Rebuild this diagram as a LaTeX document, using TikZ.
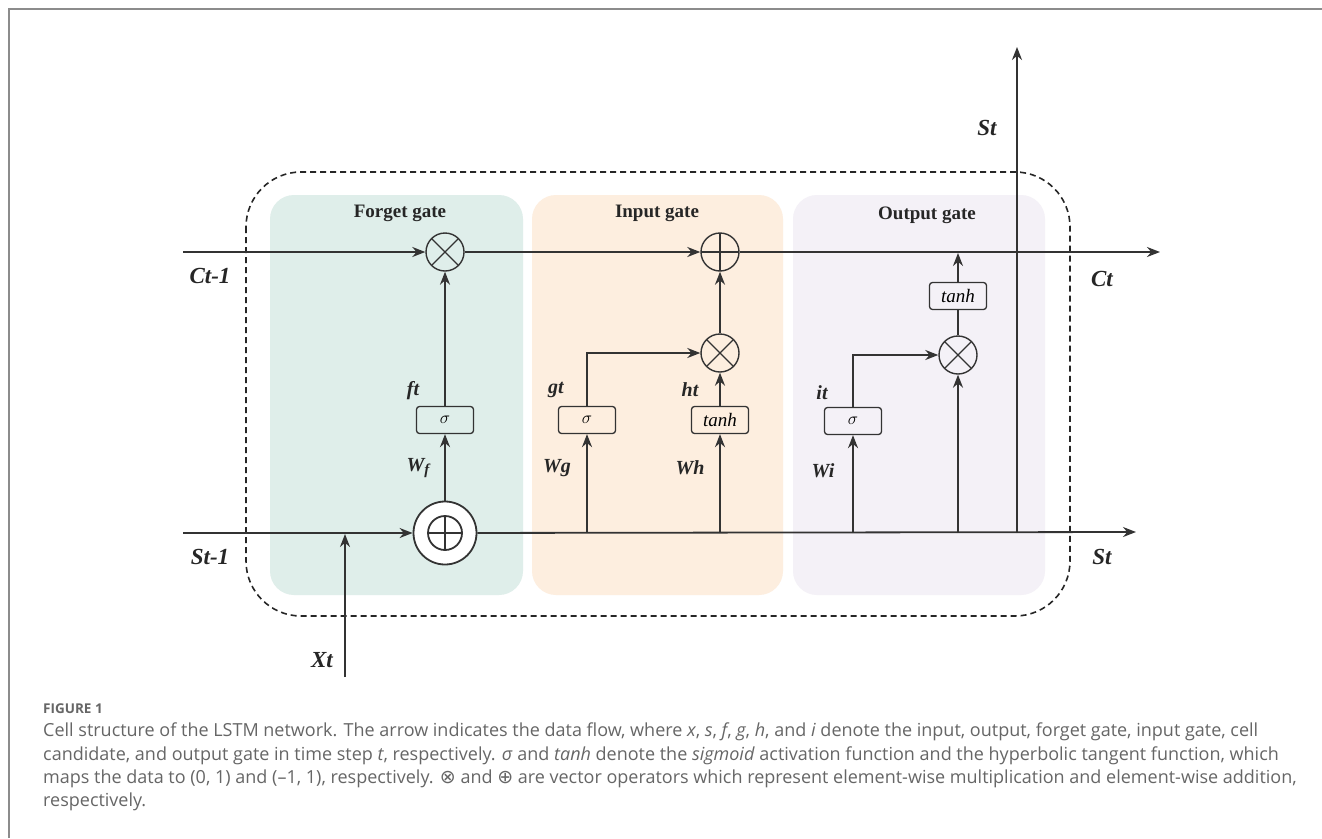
\documentclass[tikz,border=0pt]{standalone}
\usepackage{fontspec}
\setmainfont{Liberation Serif}
\newfontfamily\capfont{Open Sans}
\newfontfamily\symfont{DejaVu Sans}
\usetikzlibrary{positioning,arrows.meta,calc}

\definecolor{forgetbg}{RGB}{223,238,234}
\definecolor{inputbg}{RGB}{253,238,223}
\definecolor{outputbg}{RGB}{244,241,247}
\definecolor{linegray}{RGB}{51,51,51}
\definecolor{framegray}{RGB}{140,140,140}
\definecolor{capgray}{RGB}{102,102,102}

\begin{document}
\begin{tikzpicture}[x=1pt, y=-1pt,
    flow/.style={line width=1.8pt, draw=linegray, -{Stealth[length=13pt, width=10pt]}},
    wire/.style={line width=1.8pt, draw=linegray},
    gatebg/.style={rounded corners=24pt},
    cellborder/.style={draw=black!85, line width=1.6pt, dash pattern=on 6pt off 4pt, rounded corners=55pt},
    actbox/.style={draw=linegray, line width=1.3pt, rounded corners=3pt, minimum width=57pt, minimum height=27pt, inner sep=0pt, font=\fontsize{19}{19}\selectfont\itshape},
    opnode/.style={circle, draw=linegray, line width=1.4pt, minimum size=38pt, inner sep=0pt},
    mulop/.style={opnode, path picture={\draw[linegray, line width=1.3pt]
        (path picture bounding box.north west) -- (path picture bounding box.south east)
        (path picture bounding box.north east) -- (path picture bounding box.south west);}},
    addop/.style={opnode, path picture={\draw[linegray, line width=1.3pt]
        (path picture bounding box.north) -- (path picture bounding box.south)
        (path picture bounding box.west) -- (path picture bounding box.east);}},
    sig/.style={font=\fontsize{23}{23}\selectfont\bfseries\itshape, text=black!85},
    lab/.style={font=\fontsize{20}{20}\selectfont\bfseries\itshape, text=black!85},
    gatetitle/.style={font=\fontsize{19}{19}\selectfont\bfseries, text=black!85},
    captext/.style={anchor=west, inner sep=0pt, text=capgray, font=\capfont\fontsize{18}{18}\selectfont}
]
    \useasboundingbox (0,0) rectangle (1322,838);
    \fill[white] (0,0) rectangle (1322,838);

    % Page frame
    \draw[framegray, line width=1.5pt] (9,838) -- (9,9) -- (1322,9);

    % Gate panels
    \fill[forgetbg, gatebg] (270,195) rectangle (523,595);
    \fill[inputbg, gatebg] (532,195) rectangle (783,595);
    \fill[outputbg, gatebg] (793,195) rectangle (1045,595);
    \node[gatetitle] (tforget) at (400,213) {Forget gate};
    \node[gatetitle] (tinput) at (657,213) {Input gate};
    \node[gatetitle] (toutput) at (927,215) {Output gate};

    % Cell border
    \draw[cellborder] (246,172) rectangle (1070,616);

    % --- Forget gate ---
    \node[mulop] (mulF) at (445,252) {};
    \node[actbox] (sigF) at (445,420) {$\sigma$};
    \node[circle, draw=linegray, line width=1.8pt, fill=white, minimum size=63pt, inner sep=0pt] (bigF) at (445,533) {};
    \node[addop, line width=1.8pt, minimum size=34pt] (addF) at (445,533) {};
    \node[lab] (ft) at (413,391) {ft};
    \node[lab] (wf) at (418,468) {W\raisebox{-0.35ex}{\fontsize{15}{15}\selectfont f}};

    % --- Input gate ---
    \node[addop] (addI) at (720,252) {};
    \node[mulop] (mulI) at (720,353) {};
    \node[actbox] (sigI) at (587,420) {$\sigma$};
    \node[actbox] (tanhI) at (720,420) {tanh};
    \node[lab] (gt) at (556,390) {gt};
    \node[lab] (ht) at (690,390) {ht};
    \node[lab] (wg) at (557,468) {Wg};
    \node[lab] (wh) at (690,468) {Wh};

    % --- Output gate ---
    \node[actbox] (tanhO) at (958,296) {tanh};
    \node[mulop] (mulO) at (958,355) {};
    \node[actbox] (sigO) at (853,421) {$\sigma$};
    \node[lab] (it) at (822,393) {it};
    \node[lab] (wi) at (823,471) {Wi};

    % Wire end points
    \coordinate (cin) at (183,252);
    \coordinate (cout) at (1160,252);
    \coordinate (sin) at (183,533);
    \coordinate (sout) at (1136,532);
    \coordinate (xin) at (345,677);
    \coordinate (xjoin) at (345,534);
    \coordinate (gjoin) at (587,533);
    \coordinate (hjoin) at (720,533);
    \coordinate (ijoin) at (853,533);
    \coordinate (ojoin) at (958,533);
    \coordinate (cjoin) at (958,253);
    \coordinate (sjoin) at (1017,533);
    \coordinate (stUp) at (1017,47);

    % Cell state and hidden state lines
    \draw[flow] (cin) -- (mulF);
    \draw[flow] (mulF) -- (addI);
    \draw[flow] (addI) -- (cout);
    \draw[flow] (sin) -- (bigF);
    \draw[flow] (bigF) -- (sout);
    \draw[flow] (xin) -- (xjoin);
    \draw[flow] (sjoin) -- (stUp);

    % Forget gate flow
    \draw[flow] (bigF) -- (sigF);
    \draw[flow] (sigF) -- (mulF);

    % Input gate flow
    \draw[flow] (gjoin) -- (sigI);
    \draw[flow] (sigI.north) |- (mulI);
    \draw[flow] (hjoin) -- (tanhI);
    \draw[flow] (tanhI) -- (mulI);
    \draw[flow] (mulI) -- (addI);

    % Output gate flow
    \draw[flow] (ijoin) -- (sigO);
    \draw[flow] (sigO.north) |- (mulO);
    \draw[flow] (ojoin) -- (mulO);
    \draw[wire] (mulO) -- (tanhO);
    \draw[flow] (tanhO) -- (cjoin);

    % State labels
    \node[sig] (lcin) at (210,276) {Ct-1};
    \node[sig] (lsin) at (210,557) {St-1};
    \node[sig] (lxin) at (322,660) {Xt};
    \node[sig] (lcout) at (1102,279) {Ct};
    \node[sig] (lsout) at (1102,557) {St};
    \node[sig] (lsup) at (987,128) {St};

    % Caption
    \node[captext, font=\capfont\bfseries\fontsize{13.5}{13.5}\selectfont] (fig) at (43,709) {FIGURE 1};
    \node[captext] (cap1) at (43,732) {Cell structure of the LSTM network. The arrow indicates the data flow, where \textit{x}, \textit{s}, \textit{f}, \textit{g}, \textit{h}, and \textit{i} denote the input, output, forget gate, input gate, cell};
    \node[captext] (cap2) at (43,756) {candidate, and output gate in time step \textit{t}, respectively. \textit{σ} and \textit{tanh} denote the \textit{sigmoid} activation function and the hyperbolic tangent function, which};
    \node[captext] (cap3) at (43,779) {maps the data to (0, 1) and (–1, 1), respectively. {\symfont\fontsize{19}{19}\selectfont ⊗} and {\symfont\fontsize{19}{19}\selectfont ⊕} are vector operators which represent element-wise multiplication and element-wise addition,};
    \node[captext] (cap4) at (43,802) {respectively.};
\end{tikzpicture}
\end{document}
